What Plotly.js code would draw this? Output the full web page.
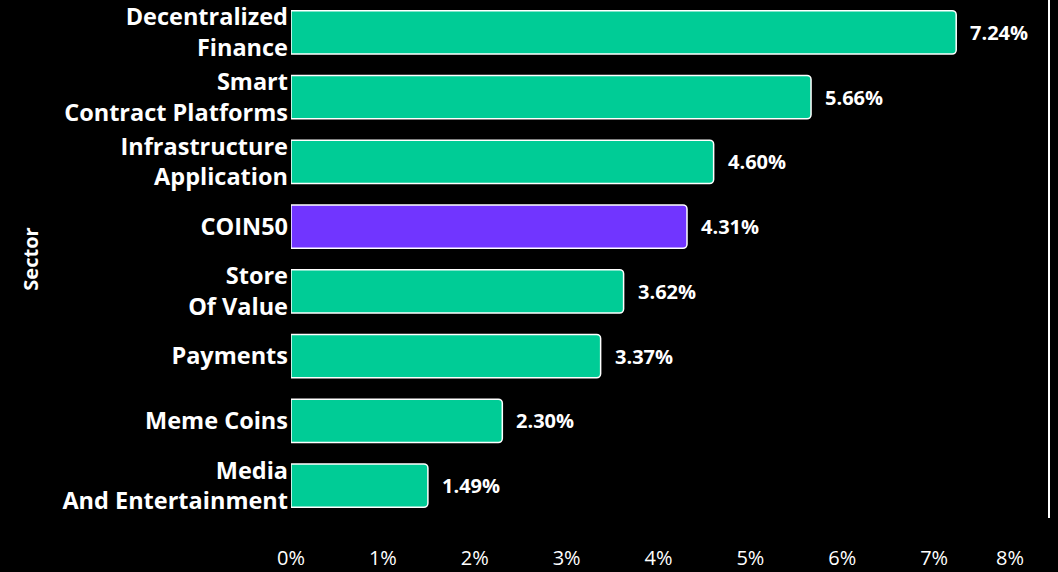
<!DOCTYPE html>
<html>
<head>
<meta charset="utf-8">
<script src="https://cdn.plot.ly/plotly-3.0.1.min.js"></script>
<style>html,body{margin:0;padding:0;background:#000;}#chart{width:1058px;height:572px;}</style>
</head>
<body>
<div id="chart"></div>
<script>
var sectors = ["Decentralized<br>Finance", "Smart<br>Contract Platforms", "Infrastructure<br>Application", "COIN50", "Store<br>Of Value", "Payments", "Meme Coins", "Media<br>And Entertainment"];
var returns = [7.24, 5.66, 4.60, 4.31, 3.62, 3.37, 2.30, 1.49];
var labels = ["7.24%", "5.66%", "4.60%", "4.31%", "3.62%", "3.37%", "2.30%", "1.49%"];
var tickVals = [0, 1, 2, 3, 4, 5, 6, 7];
var tickText = ["0%", "1%", "2%", "3%", "4%", "5%", "6%", "7%"];
var lastTickVal = [8];
var lastTickText = ["8%"];
var highlight = "COIN50";

var colors = sectors.map(function(s){ return s === highlight ? "#7135FF" : "#00CC96"; });

var trace = {
  type: "bar",
  orientation: "h",
  x: returns,
  y: sectors,
  marker: {color: colors, line: {color: "#FFFFFF", width: 1.5}, cornerradius: 4},
  hoverinfo: "skip"
};
var dummy = {type: "scatter", x: lastTickVal, y: [sectors[0]], xaxis: "x2", yaxis: "y2", mode: "markers", marker: {opacity: 0}, hoverinfo: "skip", showlegend: false};

var annotations = returns.map(function(v, i){
  return {x: v, y: sectors[i], text: labels[i], xanchor: "left", xshift: 12, showarrow: false,
          font: {family: "Open Sans", size: 20, color: "#FFFFFF", weight: 700}};
});

var layout = {
  width: 1058, height: 572,
  paper_bgcolor: "#000000", plot_bgcolor: "#000000",
  margin: {l: 291, r: 9, t: 0, b: 54},
  bargap: 0.33,
  showlegend: false,
  font: {family: "Open Sans", color: "#FFFFFF"},
  xaxis: {domain: [0, 0.9697], range: [0, 8], tickvals: tickVals, ticktext: tickText, showgrid: false, zeroline: false, showline: false,
          ticks: "outside", ticklen: 22, tickcolor: "rgba(0,0,0,0)",
          tickfont: {family: "Open Sans", size: 20, color: "#FFFFFF"}, fixedrange: true},
  xaxis2: {overlaying: "x", matches: "x", side: "bottom", anchor: "y", tickvals: lastTickVal, ticktext: lastTickText,
           ticklabelshift: -16, showgrid: false, zeroline: false, showline: false,
           ticks: "outside", ticklen: 22, tickcolor: "rgba(0,0,0,0)",
           tickfont: {family: "Open Sans", size: 20, color: "#FFFFFF"}},
  yaxis: {autorange: "reversed", showgrid: false, zeroline: false, showline: false, ticklabelstandoff: 2,
          tickfont: {family: "Open Sans", size: 23.5, color: "#FFFFFF", weight: 700},
          title: {text: "Sector", font: {family: "Open Sans", size: 20, color: "#FFFFFF", weight: 700}, standoff: 18}},
  yaxis2: {overlaying: "y", side: "right", anchor: "free", position: 1, showline: true, linecolor: "#FFFFFF", linewidth: 2,
           showticklabels: false, showgrid: false, zeroline: false, ticks: ""},
  annotations: annotations
};

Plotly.newPlot("chart", [trace, dummy], layout, {displayModeBar: false, staticPlot: true});
</script>
</body>
</html>
